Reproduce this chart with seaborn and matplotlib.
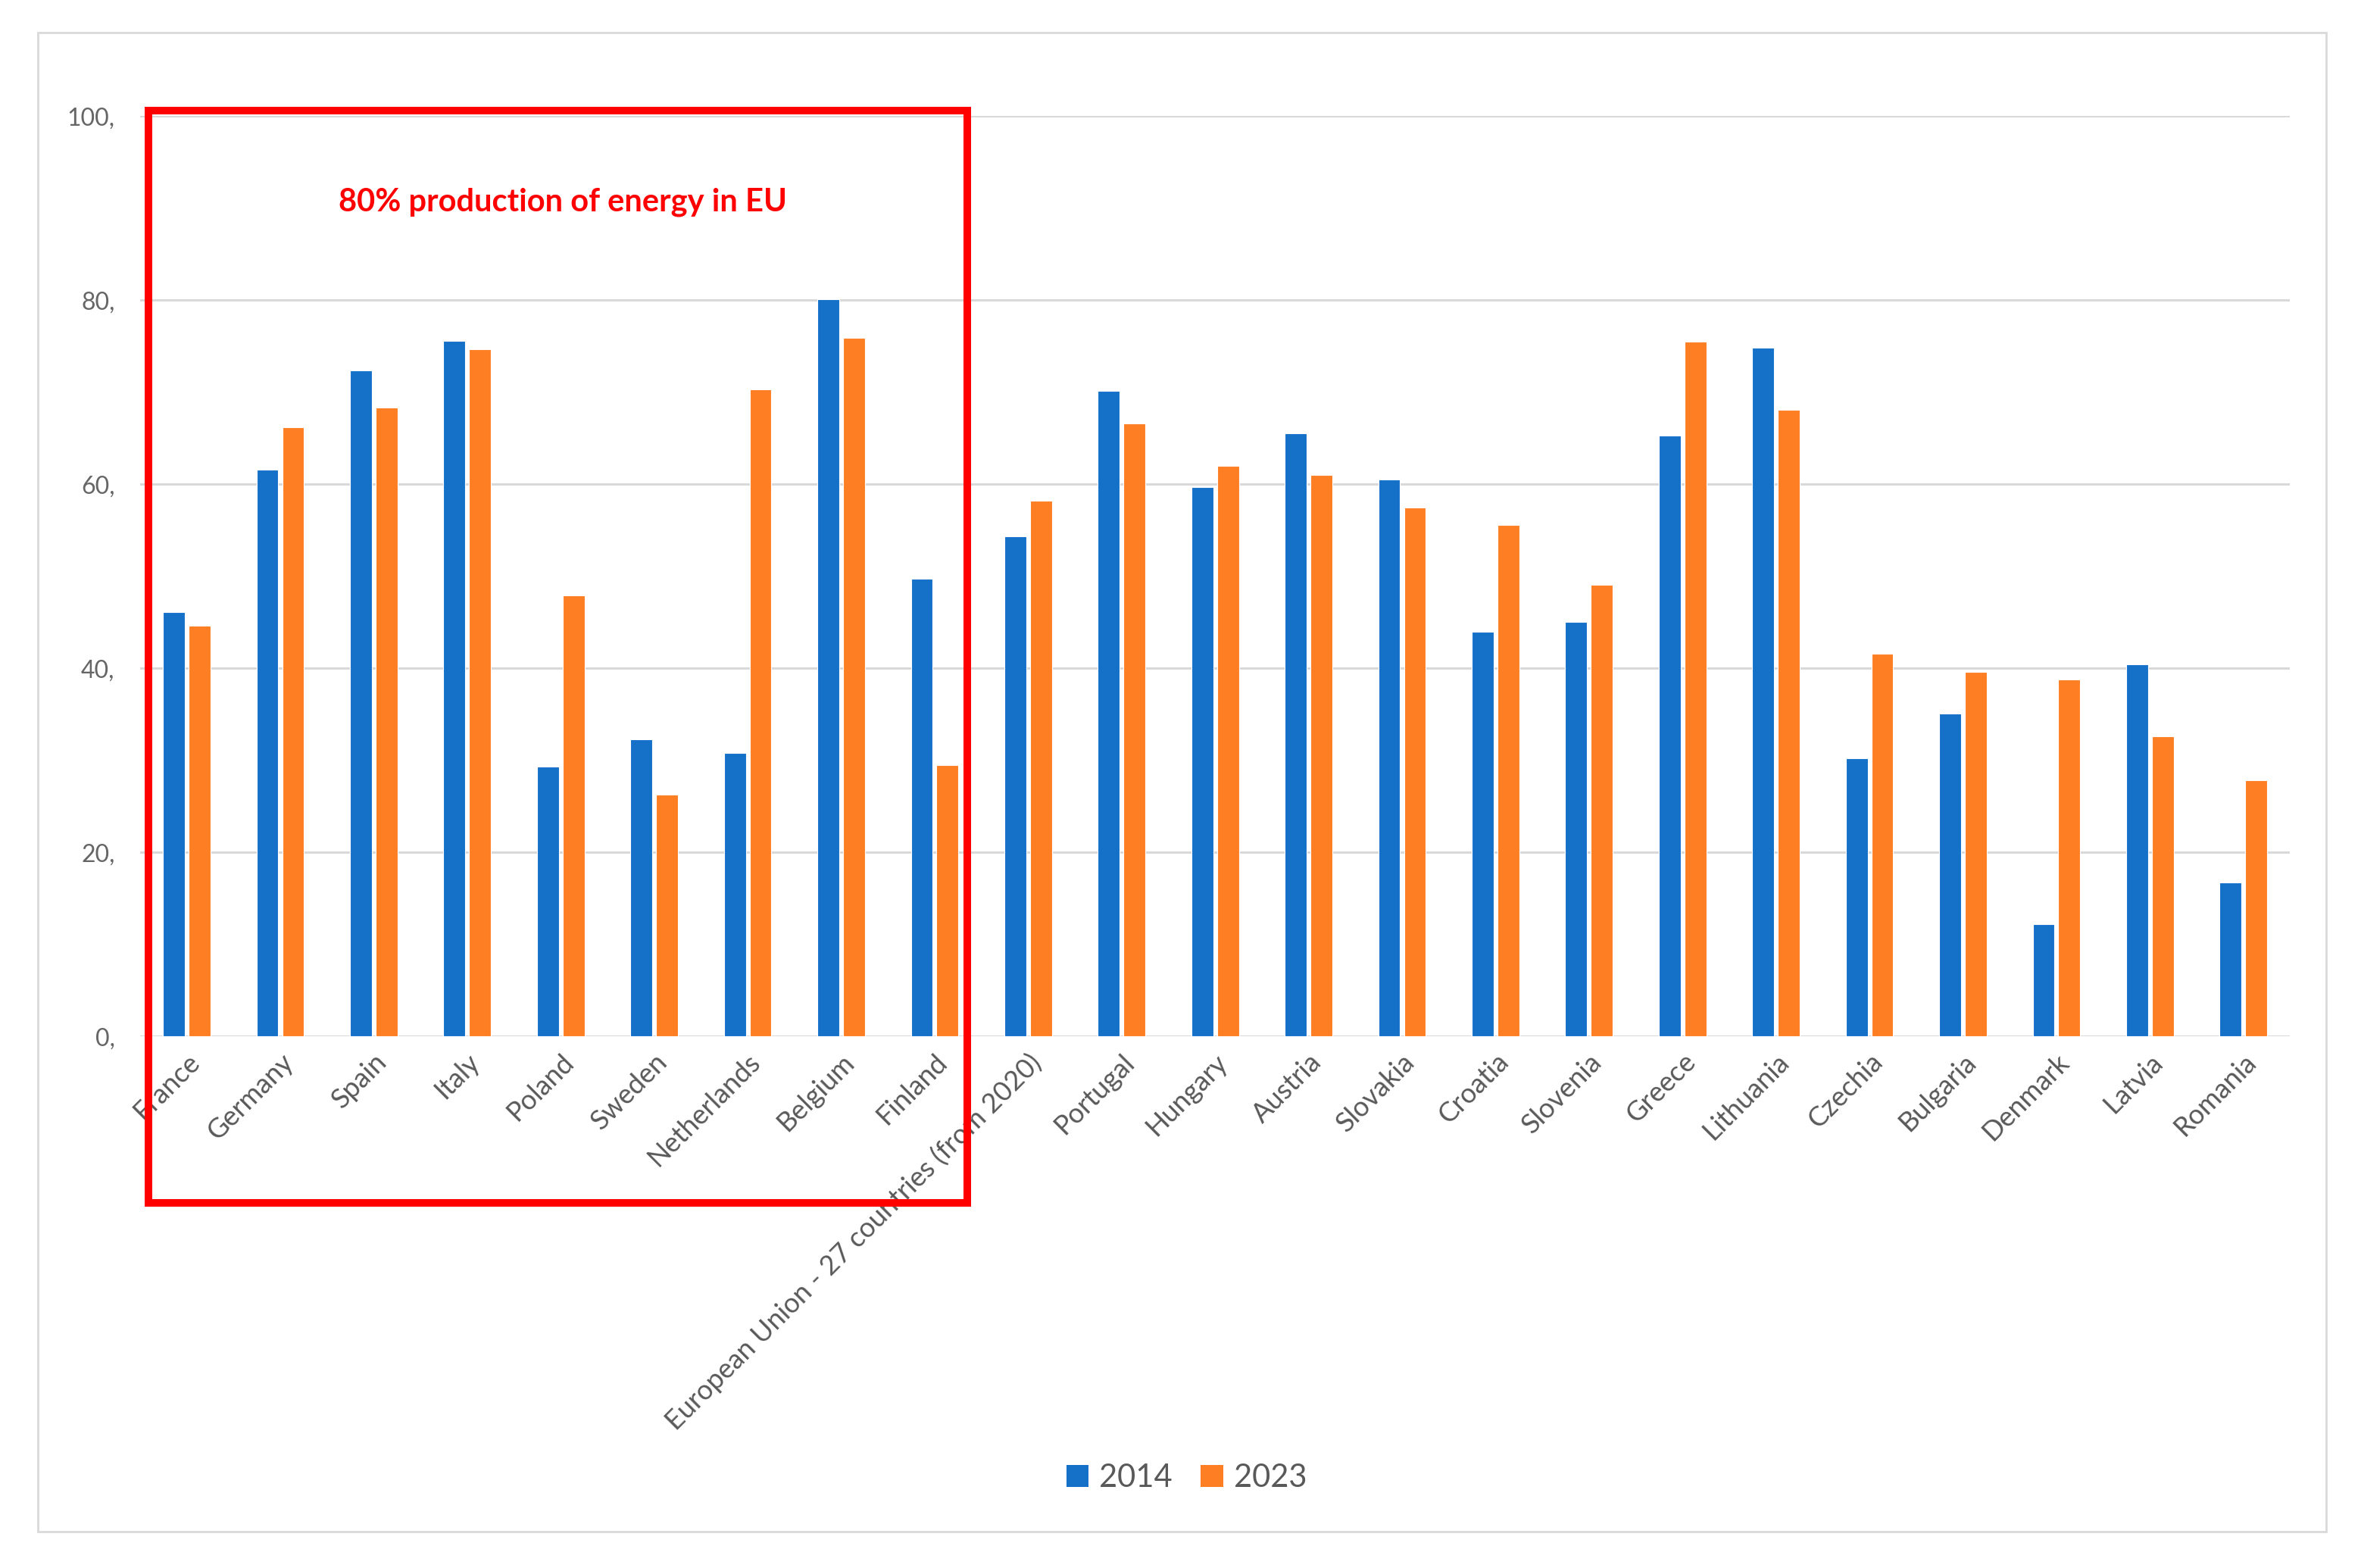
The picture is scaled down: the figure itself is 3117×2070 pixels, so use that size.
import matplotlib
matplotlib.use("Agg")
import matplotlib.pyplot as plt
from matplotlib.patches import Rectangle, Patch
import seaborn as sns
import pandas as pd

countries = ["France", "Germany", "Spain", "Italy", "Poland", "Sweden", "Netherlands",
             "Belgium", "Finland", "European Union - 27 countries (from 2020)", "Portugal",
             "Hungary", "Austria", "Slovakia", "Croatia", "Slovenia", "Greece", "Lithuania",
             "Czechia", "Bulgaria", "Denmark", "Latvia", "Romania"]
values_2014 = [46.1, 61.6, 72.4, 75.6, 29.3, 32.3, 30.8, 80.1, 49.7, 54.3, 70.1,
               59.7, 65.5, 60.5, 44.0, 45.0, 65.3, 74.8, 30.2, 35.1, 12.2, 40.4, 16.7]
values_2023 = [44.6, 66.2, 68.3, 74.7, 47.9, 26.3, 70.3, 75.9, 29.5, 58.2, 66.6,
               62.0, 61.0, 57.5, 55.6, 49.1, 75.5, 68.1, 41.6, 39.6, 38.8, 32.6, 27.8]
years = ["2014", "2023"]
y_ticks = [0, 20, 40, 60, 80, 100]
y_tick_labels = ["0,", "20,", "40,", "60,", "80,", "100,"]
annotation_text = "80% production of energy in EU"

colors = {"2014": "#1570C8", "2023": "#FD7E23"}

df = pd.DataFrame({
    "country": countries * 2,
    "value": values_2014 + values_2023,
    "year": [years[0]] * len(countries) + [years[1]] * len(countries),
})

sns.set_style("white")
plt.rcParams["font.family"] = ["Lato", "DejaVu Sans"]

fig = plt.figure(figsize=(15.585, 10.35), dpi=200)
ax = fig.add_axes([0.0593, 0.339, 0.9107, 0.587])

sns.barplot(data=df, x="country", y="value", hue="year", palette=colors,
            width=0.55, gap=0.15, ax=ax, legend=False, saturation=1,
            edgecolor="white", linewidth=0.4)

ax.set_ylim(0, 100)
ax.set_xlim(-0.5, len(countries) - 0.5)
ax.set_yticks(y_ticks)
ax.set_yticklabels(y_tick_labels, color="#666666", fontsize=11.5)
ax.yaxis.grid(True, color="#D9D9D9", linewidth=1.1)
ax.xaxis.grid(False)
ax.set_axisbelow(True)
for s in ax.spines.values():
    s.set_visible(False)
ax.tick_params(axis="y", length=0, pad=12)
ax.tick_params(axis="x", length=0, pad=6)
ax.set_xlabel("")
ax.set_ylabel("")
for lab in ax.get_xticklabels():
    lab.set_rotation(45)
    lab.set_ha("right")
    lab.set_va("top")
    lab.set_rotation_mode("anchor")
    lab.set_color("#595959")
    lab.set_fontsize(13)

# outer chart border
fig.add_artist(Rectangle((0.0159, 0.023), 0.9694, 0.956, transform=fig.transFigure,
                         fill=False, edgecolor="#D9D9D9", linewidth=1.0))
# red highlight box
fig.add_artist(Rectangle((0.0628, 0.233), 0.347, 0.6964, transform=fig.transFigure,
                         fill=False, edgecolor="#FF0000", linewidth=3.6))
fig.text(0.2385, 0.8713, annotation_text, color="#FF0000", fontsize=15,
         fontweight="bold", ha="center", va="center")

handles = [Patch(facecolor=colors[y], edgecolor="none", label=y) for y in years]
fig.legend(handles=handles, loc="center", bbox_to_anchor=(0.5026, 0.0576), ncol=2,
           frameon=False, fontsize=15, handlelength=0.7, handleheight=0.7,
           handletextpad=0.35, columnspacing=0.9, labelcolor="#595959")

fig.savefig("out.png", dpi=200, facecolor="white")
